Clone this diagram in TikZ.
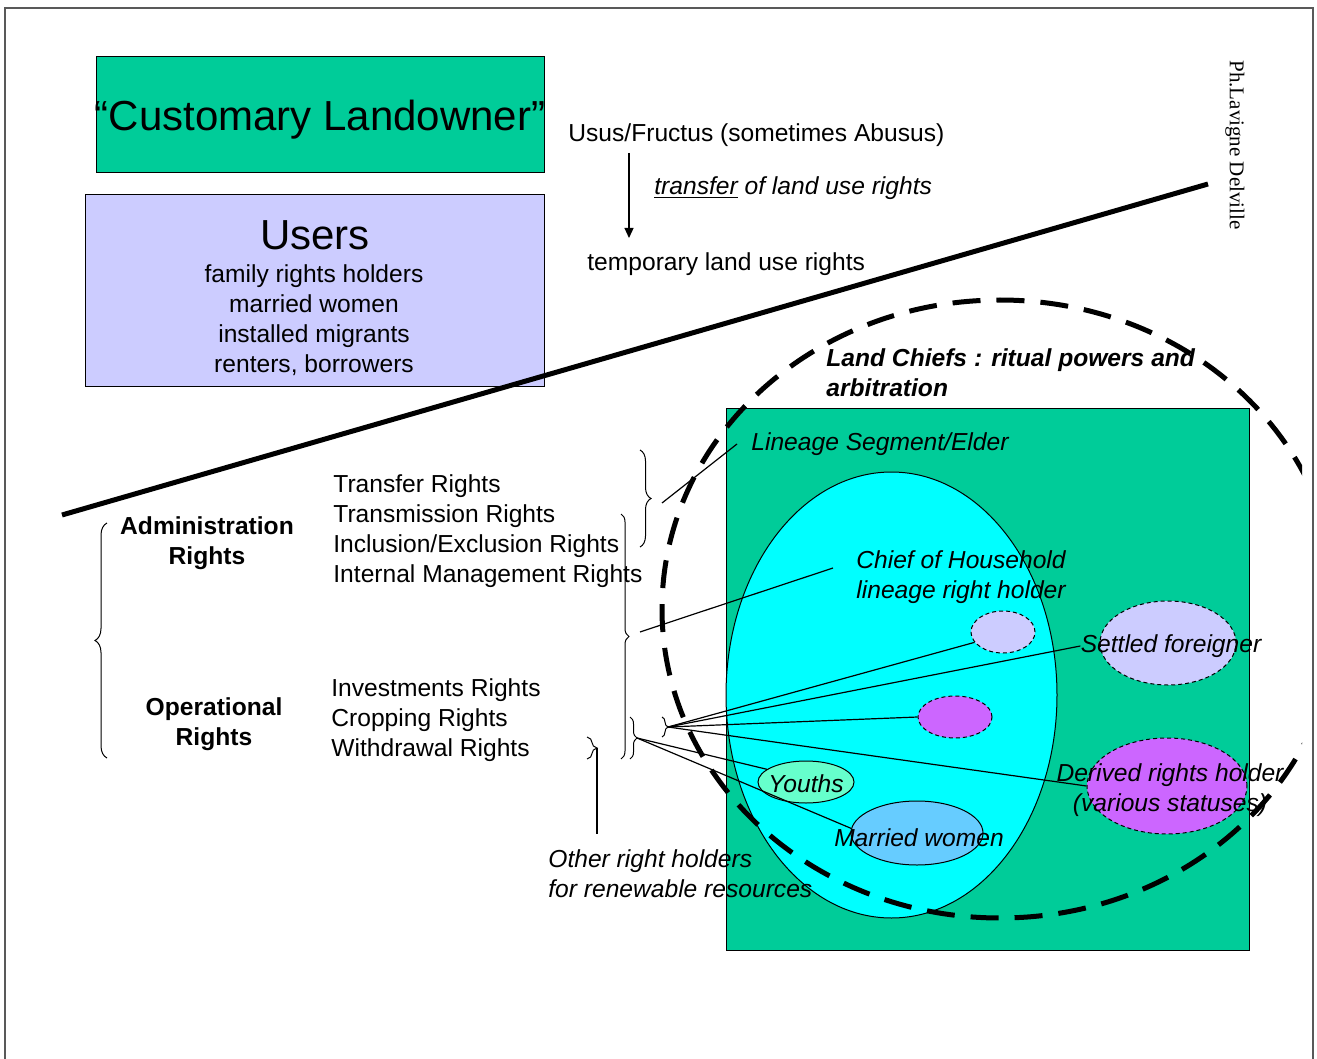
\documentclass[tikz,border=0pt]{standalone}
\usepackage{fontspec}
\setmainfont{Liberation Sans}
\newfontfamily\serifsig{Liberation Serif}
\usetikzlibrary{arrows.meta,decorations.pathreplacing,shapes.geometric,positioning}

\definecolor{landgreen}{RGB}{0,204,153}
\definecolor{householdcyan}{RGB}{0,255,255}
\definecolor{userlilac}{RGB}{204,204,255}
\definecolor{derivedpurple}{RGB}{204,102,255}
\definecolor{youthgreen}{RGB}{102,255,204}
\definecolor{wifeblue}{RGB}{102,204,255}

\tikzset{
  txt/.style={inner sep=0pt, font=\fontsize{12.3}{15}\selectfont},
  itxt/.style={txt, font=\fontsize{12.3}{15}\selectfont\itshape},
  btxt/.style={txt, font=\fontsize{12.3}{15}\selectfont\bfseries, align=center},
  bigtxt/.style={inner sep=0pt, font=\fontsize{21}{25}\selectfont},
  panel/.style={draw, inner sep=0pt, line width=0.5pt},
  oval/.style={ellipse, draw, inner sep=0pt, line width=0.5pt},
  dashoval/.style={oval, dash pattern=on 2pt off 1.5pt},
  curly/.style={decorate, decoration={brace, amplitude=#1}, line width=0.5pt},
  fan/.style={line width=0.6pt},
}

\begin{document}
\begin{tikzpicture}[x=0.5pt, y=-0.5pt]
    \useasboundingbox (0,0) rectangle (1317,1059);
    % page frame
    \draw[gray!70!black, line width=0.8pt] (5,1059) |- (1313,8) -- (1313,1059);

    % holders
    \node[panel, fill=landgreen, minimum width=224pt, minimum height=58pt] (owner) at (320,115) {};
    \node[bigtxt] (ownertxt) at (320,120) {“Customary Landowner”};
    \node[panel, fill=userlilac, minimum width=229.5pt, minimum height=95.5pt] (users) at (314.5,290.5) {};
    \node[bigtxt] (userstxt) at (315,235) {Users};
    \node[txt, align=center] (userlist) at (314,320) {family rights holders\\married women\\installed migrants\\renters, borrowers};

    % use rights
    \node[txt, anchor=west] (usus) at (568,135) {Usus/Fructus (sometimes Abusus)};
    \node[itxt, anchor=west] (transfer) at (654,188) {\underline{transfer} of land use rights};
    \node[txt, anchor=west] (temp) at (587,264) {temporary land use rights};
    \coordinate (arrtop) at (629,153);
    \coordinate (arrbot) at (629,238);
    \draw[line width=0.6pt, -{Triangle[length=5pt, width=4.5pt]}] (arrtop) -- (arrbot);

    \node[rotate=-90, inner sep=0pt, font=\serifsig\fontsize{10.5}{12}\selectfont] (author) at (1235,145) {Ph.Lavigne Delville};

    % lineage land
    \node[panel, fill=landgreen, minimum width=261.5pt, minimum height=271pt] (lineage) at (987.5,679) {};
    \node[oval, fill=householdcyan, minimum width=165.5pt, minimum height=223pt] (household) at (891.5,695) {};
    \node[dashoval, fill=userlilac, minimum width=32pt, minimum height=21pt] (guest) at (1003,632) {};
    \node[dashoval, fill=userlilac, minimum width=68pt, minimum height=42pt] (settled) at (1168,643) {};
    \node[dashoval, fill=derivedpurple, minimum width=37pt, minimum height=21pt] (client) at (955,717) {};
    \node[dashoval, fill=derivedpurple, minimum width=80pt, minimum height=48pt] (derived) at (1167,786) {};
    \node[oval, fill=youthgreen, minimum width=48pt, minimum height=21pt] (youths) at (806,782) {};
    \node[oval, fill=wifeblue, minimum width=66pt, minimum height=32pt] (married) at (917,833) {};

    % divide
    \coordinate (divL) at (62,515);
    \coordinate (divR) at (1208,184);
    \draw[line width=2.5pt] (divL) -- (divR);

    % bundles of rights
    \node[btxt] (admin) at (207,543) {Administration\\Rights};
    \node[btxt] (oper) at (214,724) {Operational\\Rights};
    \node[txt, anchor=west, align=left] (adminlist) at (333,531) {Transfer Rights\\Transmission Rights\\Inclusion/Exclusion Rights\\Internal Management Rights};
    \node[txt, anchor=west, align=left] (operlist) at (331,720) {Investments Rights\\Cropping Rights\\Withdrawal Rights};

    \draw[curly=6pt] (107,758) -- (107,523);
    \draw[curly=5.5pt] (640,450) -- (640,547);
    \draw[curly=4pt] (621,514) -- (621,759);
    \draw[curly=3.5pt] (630,717) -- (630,759);
    \draw[curly=3pt] (662,717) -- (662,737);
    \draw[curly=5pt] (587,737) -- (587,759);

    \coordinate (tipA) at (662,503);
    \coordinate (tipB) at (640,632);
    \coordinate (tipC) at (637,738);
    \coordinate (tipD) at (668,727);
    \coordinate (tipE) at (597,748);
    \coordinate (tipEend) at (597,834);

    % holders of each right
    \node[itxt, anchor=west] (elder) at (751,444) {Lineage Segment/Elder};
    \node[itxt, anchor=west, align=left] (chief) at (856,577) {Chief of Household\\lineage right holder};
    \node[itxt] (settledtxt) at (1171,646) {Settled foreigner};
    \node[itxt, align=center] (derivedtxt) at (1170,790) {Derived rights holder\\(various statuses)};
    \node[itxt] (youthstxt) at (806,784) {Youths};
    \node[itxt] (marriedtxt) at (919,838) {Married women};
    \node[itxt, anchor=west, align=left] (others) at (548,874) {Other right holders\\for renewable resources};

    \draw[fan] (tipA) -- ([xshift=-7pt]elder.west);
    \draw[fan] (tipB) -- ([xshift=-11.5pt, yshift=4.5pt]chief.west);
    \draw[fan] (tipD) -- (guest.200);
    \draw[fan] (tipD) -- (settledtxt.west);
    \draw[fan] (tipD) -- (client.west);
    \draw[fan] (tipD) -- (derived.west);
    \draw[fan] (tipC) -- (youths.162);
    \draw[fan] (tipC) -- (married.176);
    \draw[fan] (tipE) -- (tipEend);

    % land chiefs
    \begin{scope}
        \clip (0,0) rectangle (1302,1059);
        \draw[line width=2.5pt, dash pattern=on 14pt off 8pt] (1000,609) ellipse [x radius=169pt, y radius=154.5pt];
    \end{scope}
    \node[txt, font=\fontsize{12.3}{15}\selectfont\bfseries\itshape, anchor=west, align=left] (landchief) at (826,373) {Land Chiefs : ritual powers and\\arbitration};
\end{tikzpicture}
\end{document}
